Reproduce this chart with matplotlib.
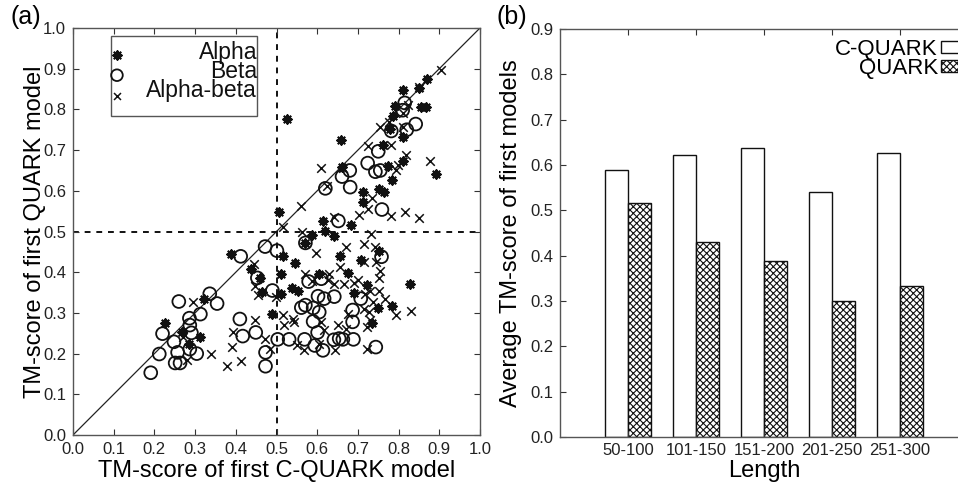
import matplotlib
matplotlib.use('Agg')
import matplotlib.pyplot as plt
from matplotlib.patches import Rectangle
import numpy as np

plt.rcParams['font.family'] = ['Liberation Sans', 'DejaVu Sans']
plt.rcParams['hatch.linewidth'] = 0.8

# ---------------- data: panel (a) ----------------
alpha_x = [0.525, 0.506, 0.659, 0.660, 0.811, 0.849, 0.870, 0.791, 0.786, 0.854, 0.868,
           0.778, 0.811, 0.761, 0.810, 0.773, 0.785, 0.893, 0.751, 0.765, 0.713, 0.712,
           0.614, 0.618, 0.641, 0.586, 0.682, 0.571, 0.657, 0.676, 0.605, 0.388, 0.517,
           0.546, 0.438, 0.510, 0.460, 0.464, 0.538, 0.553, 0.512, 0.691, 0.722, 0.829,
           0.749, 0.784, 0.734, 0.490, 0.226, 0.269, 0.322, 0.312, 0.284, 0.753, 0.708]
alpha_y = [0.776, 0.547, 0.725, 0.658, 0.847, 0.852, 0.874, 0.809, 0.784, 0.805, 0.805,
           0.752, 0.733, 0.713, 0.672, 0.660, 0.627, 0.641, 0.605, 0.596, 0.572, 0.598,
           0.527, 0.502, 0.490, 0.492, 0.515, 0.472, 0.439, 0.399, 0.396, 0.444, 0.439,
           0.422, 0.409, 0.395, 0.386, 0.351, 0.362, 0.353, 0.347, 0.350, 0.368, 0.370,
           0.311, 0.318, 0.276, 0.297, 0.274, 0.252, 0.335, 0.240, 0.224, 0.453, 0.430]

beta_x = [0.815, 0.810, 0.820, 0.842, 0.782, 0.750, 0.724, 0.680, 0.661, 0.743, 0.755,
          0.620, 0.681, 0.759, 0.652, 0.571, 0.472, 0.501, 0.412, 0.758, 0.453, 0.579,
          0.610, 0.490, 0.602, 0.617, 0.642, 0.707, 0.336, 0.354, 0.260, 0.571, 0.561,
          0.590, 0.605, 0.687, 0.313, 0.286, 0.410, 0.590, 0.687, 0.287, 0.291, 0.220,
          0.449, 0.601, 0.417, 0.248, 0.287, 0.257, 0.304, 0.212, 0.473, 0.251, 0.263,
          0.191, 0.473, 0.503, 0.531, 0.569, 0.594, 0.614, 0.641, 0.654, 0.663, 0.689,
          0.744]
beta_y = [0.816, 0.798, 0.750, 0.764, 0.747, 0.697, 0.668, 0.650, 0.635, 0.647, 0.650,
          0.606, 0.609, 0.554, 0.526, 0.472, 0.463, 0.453, 0.439, 0.438, 0.386, 0.377,
          0.384, 0.355, 0.341, 0.335, 0.340, 0.335, 0.347, 0.323, 0.328, 0.319, 0.313,
          0.312, 0.302, 0.307, 0.297, 0.287, 0.285, 0.279, 0.278, 0.270, 0.251, 0.249,
          0.252, 0.252, 0.243, 0.229, 0.211, 0.203, 0.200, 0.199, 0.203, 0.177, 0.177,
          0.153, 0.169, 0.235, 0.235, 0.235, 0.220, 0.208, 0.234, 0.237, 0.235, 0.235,
          0.216]

ab_x = [0.905, 0.851, 0.822, 0.777, 0.755, 0.811, 0.811, 0.724, 0.781, 0.819, 0.798,
        0.793, 0.876, 0.609, 0.664, 0.624, 0.561, 0.734, 0.726, 0.702, 0.782, 0.815,
        0.851, 0.641, 0.732, 0.516, 0.563, 0.596, 0.670, 0.715, 0.742, 0.655, 0.714,
        0.745, 0.755, 0.753, 0.445, 0.570, 0.628, 0.588, 0.690, 0.701, 0.626, 0.641,
        0.666, 0.717, 0.730, 0.751, 0.766, 0.736, 0.715, 0.728, 0.794, 0.830, 0.448,
        0.454, 0.498, 0.540, 0.544, 0.296, 0.447, 0.393, 0.391, 0.414, 0.379, 0.340,
        0.281, 0.271, 0.471, 0.485, 0.516, 0.519, 0.551, 0.567, 0.609, 0.617, 0.605,
        0.644, 0.650, 0.671, 0.676, 0.722, 0.723, 0.730]
ab_y = [0.898, 0.855, 0.810, 0.770, 0.757, 0.792, 0.756, 0.711, 0.713, 0.689, 0.663,
        0.650, 0.672, 0.655, 0.655, 0.613, 0.562, 0.583, 0.556, 0.541, 0.538, 0.549,
        0.532, 0.535, 0.494, 0.511, 0.500, 0.448, 0.462, 0.470, 0.462, 0.412, 0.425,
        0.424, 0.403, 0.385, 0.419, 0.396, 0.396, 0.378, 0.373, 0.380, 0.382, 0.370,
        0.372, 0.347, 0.355, 0.355, 0.333, 0.327, 0.310, 0.302, 0.295, 0.305, 0.366,
        0.343, 0.339, 0.286, 0.278, 0.328, 0.282, 0.253, 0.216, 0.182, 0.170, 0.198,
        0.184, 0.241, 0.235, 0.212, 0.296, 0.270, 0.221, 0.208, 0.278, 0.258, 0.224,
        0.208, 0.270, 0.261, 0.298, 0.212, 0.265, 0.282]

series_labels = ['Alpha', 'Beta', 'Alpha-beta']

# ---------------- data: panel (b) ----------------
length_bins = ['50-100', '101-150', '151-200', '201-250', '251-300']
cquark_avg = [0.588, 0.621, 0.637, 0.541, 0.626]
quark_avg = [0.516, 0.430, 0.388, 0.300, 0.334]
bar_labels = ['C-QUARK', 'QUARK']

W, H = 958, 483
fig = plt.figure(figsize=(W / 100, H / 100), dpi=100)


def style_ticks(ax, pad=5):
    ax.tick_params(direction='in', top=True, right=True, length=4, width=0.8,
                   labelsize=12, pad=pad, colors='#333333', labelcolor='#222222')
    for s in ax.spines.values():
        s.set_color('#555555')
        s.set_linewidth(1.0)


# ---- panel (a)
axa = fig.add_axes([73 / W, 1 - 435 / H, 407 / W, 407 / H])
axa.plot([0, 1], [0, 1], color='#222222', lw=0.9, zorder=1)
axa.axvline(0.5, color='#111111', lw=1.4, ls=(0, (3, 3)), zorder=1)
axa.axhline(0.5, color='#111111', lw=1.4, ls=(0, (3, 3)), zorder=1)

alpha_style = dict(marker=(8, 2, 0), s=36, color='#111111', linewidths=1.5)
beta_style = dict(marker='o', s=85, facecolors='none', edgecolors='#111111', linewidths=1.3)
ab_style = dict(marker='x', s=38, color='#111111', linewidths=1.1)
axa.scatter(alpha_x, alpha_y, zorder=3, **alpha_style)
axa.scatter(beta_x, beta_y, zorder=3, **beta_style)
axa.scatter(ab_x, ab_y, zorder=3, **ab_style)
axa.set_xlim(0, 1)
axa.set_ylim(0, 1)
ticks = np.arange(0, 1.01, 0.1)
axa.set_xticks(ticks)
axa.set_yticks(ticks)
axa.set_xticklabels(['%.1f' % v for v in ticks])
axa.set_yticklabels(['%.1f' % v for v in ticks])
style_ticks(axa)
axa.set_xlabel('TM-score of first C-QUARK model', fontsize=17, labelpad=2)
axa.set_ylabel('TM-score of first QUARK model', fontsize=17, labelpad=-2)

# manual legend (markers left, labels right-aligned)
axa.add_patch(Rectangle((0.093, 0.784), 0.359, 0.196, transform=axa.transAxes,
                        facecolor='white', edgecolor='#555555', lw=1.0, zorder=4))
leg_rows_text = [0.941, 0.894, 0.846]
leg_rows_mark = [0.934, 0.884, 0.833]
styles = [alpha_style, dict(beta_style, s=70), dict(ab_style, s=25)]
for lab, ty, my, st in zip(series_labels, leg_rows_text, leg_rows_mark, styles):
    axa.scatter([0.108], [my], transform=axa.transAxes, zorder=5, clip_on=False, **st)
    axa.text(0.452, ty, lab, transform=axa.transAxes, ha='right', va='center',
             fontsize=16.5, color='#111111', zorder=5)

fig.text(10 / W, 1 - 17 / H, '(a)', fontsize=18, ha='left', va='center')

# ---- panel (b)
axb = fig.add_axes([560 / W, 1 - 437 / H, 408 / W, 408 / H])
pos = np.arange(1, len(length_bins) + 1)
axb.bar(pos, cquark_avg, width=-1 / 3, align='edge', facecolor='white',
        edgecolor='#111111', lw=1.0, label=bar_labels[0])
axb.bar(pos, quark_avg, width=1 / 3, align='edge', facecolor='white',
        edgecolor='#111111', lw=1.0, hatch='xxxxx', label=bar_labels[1])
axb.set_xlim(0, 6)
axb.set_ylim(0, 0.9)
axb.set_xticks(pos)
axb.set_xticklabels(length_bins)
yt = np.arange(0, 0.91, 0.1)
axb.set_yticks(yt)
axb.set_yticklabels(['%.1f' % v for v in yt])
style_ticks(axb)
axb.tick_params(axis='x', pad=4)
axb.set_xlabel('Length', fontsize=17, labelpad=2)
axb.set_ylabel('Average TM-score of first models', fontsize=17, labelpad=6)
axb.legend(loc='upper right', markerfirst=False, frameon=False, fontsize=16,
           labelspacing=-0.12, handlelength=1.3, handleheight=0.45, handletextpad=0.15,
           borderaxespad=0, borderpad=0, bbox_to_anchor=(1.005, 0.975))

fig.text(497 / W, 1 - 17 / H, '(b)', fontsize=18, ha='left', va='center')

fig.savefig('out.png', dpi=100)
